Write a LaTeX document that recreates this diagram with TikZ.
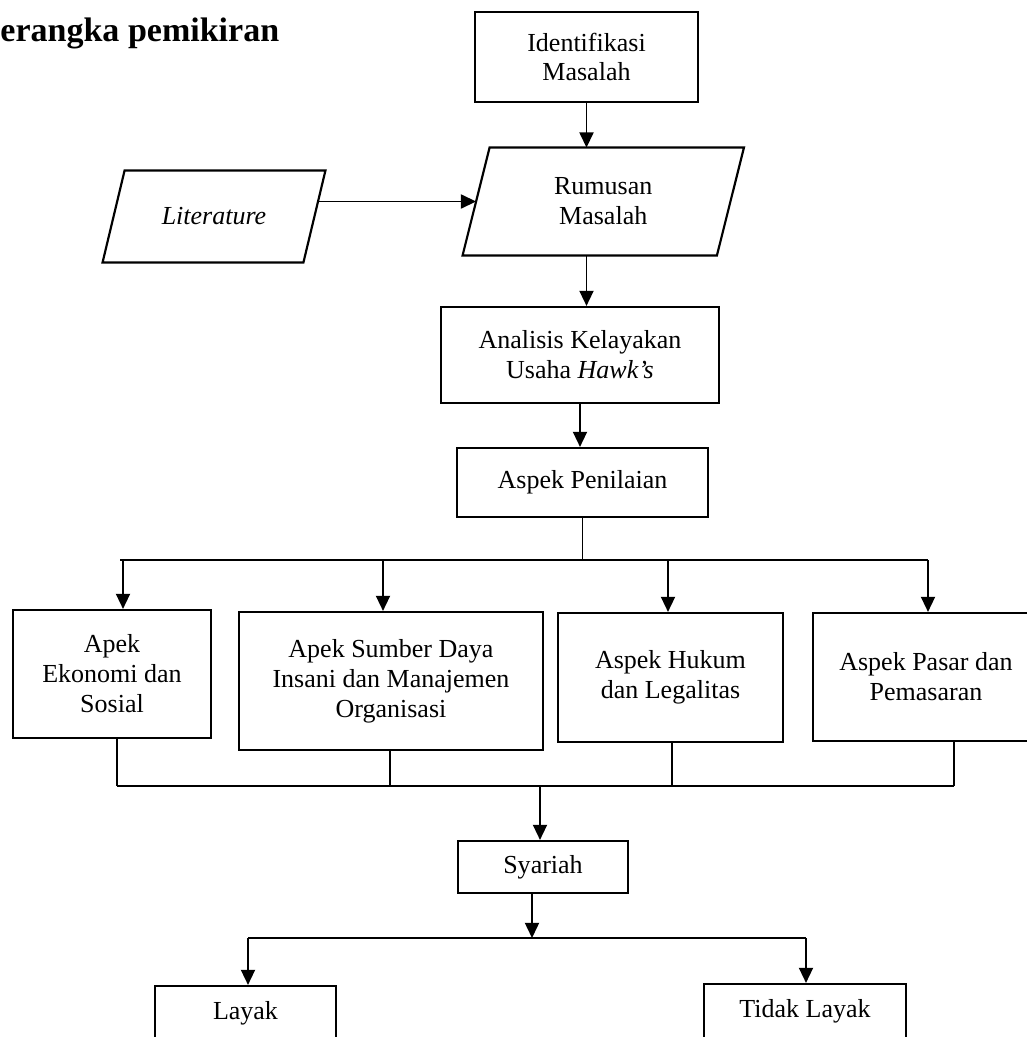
\documentclass[tikz,border=0pt]{standalone}
\usepackage{fontspec}
\setmainfont{Liberation Serif}
\usetikzlibrary{arrows.meta}
\newcommand{\pxu}{0.4615pt}
\tikzset{box/.style = {draw, line width = 1pt, align = center, inner sep = 2pt}}
\tikzset{para/.style = {align = center, inner sep = 2pt}}
\tikzset{edge/.style = {line width = 1pt}}
\tikzset{wire/.style = {line width = 0.8pt}}
\tikzset{flow/.style = {wire, -{Triangle[length = 7pt, width = 6.5pt]}}}

\begin{document}
\begin{tikzpicture}[x = 0.4615pt, y = -0.4615pt, font = \fontsize{12}{13.8}\selectfont]
      \useasboundingbox (0, 0) rectangle (1027, 1037);
      \clip (0, 0) rectangle (1027, 1037);

      \node [anchor = base west, inner sep = 0, font = \fontsize{15.7}{18}\selectfont\bfseries] (title) at (0, 41) {erangka pemikiran};

      \node [box, minimum width = 223*\pxu, minimum height = 90*\pxu] (ident) at (586.5, 57) {Identifikasi\\Masalah};
      \node [para, minimum width = 253.5*\pxu, minimum height = 107*\pxu] (rum) at (603.25, 201.5) {Rumusan\\Masalah};
      \node [para, minimum width = 200*\pxu, minimum height = 91*\pxu] (lit) at (214, 216.5) {\textit{Literature}};
      \node [box, minimum width = 278*\pxu, minimum height = 96*\pxu] (analisis) at (580, 355) {Analisis Kelayakan\\Usaha \textit{Hawk’s}};
      \node [box, minimum width = 251*\pxu, minimum height = 69*\pxu] (penilaian) at (582.5, 482.5) {Aspek Penilaian};

      % slanted outlines
      \draw [edge] ([xshift = 13.5*\pxu]rum.north west) -- ([xshift = 13.5*\pxu]rum.north east)
        -- ([xshift = -13.5*\pxu]rum.south east) -- ([xshift = -13.5*\pxu]rum.south west) -- cycle;
      \draw [edge] ([xshift = 11*\pxu]lit.north west) -- ([xshift = 11*\pxu]lit.north east)
        -- ([xshift = -11*\pxu]lit.south east) -- ([xshift = -11*\pxu]lit.south west) -- cycle;

      \node [box, minimum width = 198*\pxu, minimum height = 128*\pxu] (ekonomi) at (112, 674) {Apek\\Ekonomi dan\\Sosial};
      \node [box, minimum width = 304*\pxu, minimum height = 138*\pxu] (sdi) at (391, 681) {Apek Sumber Daya\\Insani dan Manajemen\\Organisasi};
      \node [box, minimum width = 225*\pxu, minimum height = 129*\pxu] (hukum) at (670.5, 677.5) {Aspek Hukum\\dan Legalitas};
      \node [box, minimum width = 226*\pxu, minimum height = 128*\pxu] (pasar) at (926, 677) {Aspek Pasar dan\\Pemasaran};

      \node [box, minimum width = 170*\pxu, minimum height = 52*\pxu] (syariah) at (543, 867) {Syariah};
      \node [box, minimum width = 181*\pxu, minimum height = 54*\pxu] (layak) at (245.5, 1013) {Layak};
      \node [box, minimum width = 202*\pxu, minimum height = 54*\pxu] (tidak) at (805, 1011) {Tidak Layak};

      % upper chain
      \draw [flow] (ident) -- (ident |- rum.north);
      \draw [flow] ([xshift = 4*\pxu]lit.east |- rum.west) -- (rum.west);
      \draw [flow] (ident.south |- rum.south) -- (ident.south |- analisis.north);
      \draw [flow] (analisis) -- (analisis |- penilaian.north);

      % split to the four aspects
      \coordinate (top1) at (123, 560);
      \coordinate (top2) at (383, 560);
      \coordinate (top3) at (668, 560);
      \coordinate (top4) at (928, 560);
      \draw [wire] (penilaian) -- (penilaian |- top1);
      \draw [wire] ([xshift = -3*\pxu]top1) -- (top4);
      \foreach \t/\b in {top1/ekonomi, top2/sdi, top3/hukum, top4/pasar}
        \draw [flow] (\t) -- (\t |- \b.north);

      % join again
      \coordinate (bot1) at (117, 786);
      \coordinate (bot2) at (390, 786);
      \coordinate (bot3) at (672, 786);
      \coordinate (bot4) at (954, 786);
      \foreach \t/\b in {bot1/ekonomi, bot2/sdi, bot3/hukum, bot4/pasar}
        \draw [wire] (\t |- \b.south) -- (\t);
      \draw [wire] (bot1) -- (bot4);
      \coordinate (join) at (540, 786);
      \draw [flow] (join) -- (join |- syariah.north);

      % decision
      \coordinate (fork) at (532, 938);
      \coordinate (low1) at (248, 938);
      \coordinate (low2) at (806, 938);
      \draw [flow] (fork |- syariah.south) -- (fork);
      \draw [wire] (low1) -- (low2);
      \draw [flow] (low1) -- (low1 |- layak.north);
      \draw [flow] (low2) -- (low2 |- tidak.north);
    \end{tikzpicture}
\end{document}
